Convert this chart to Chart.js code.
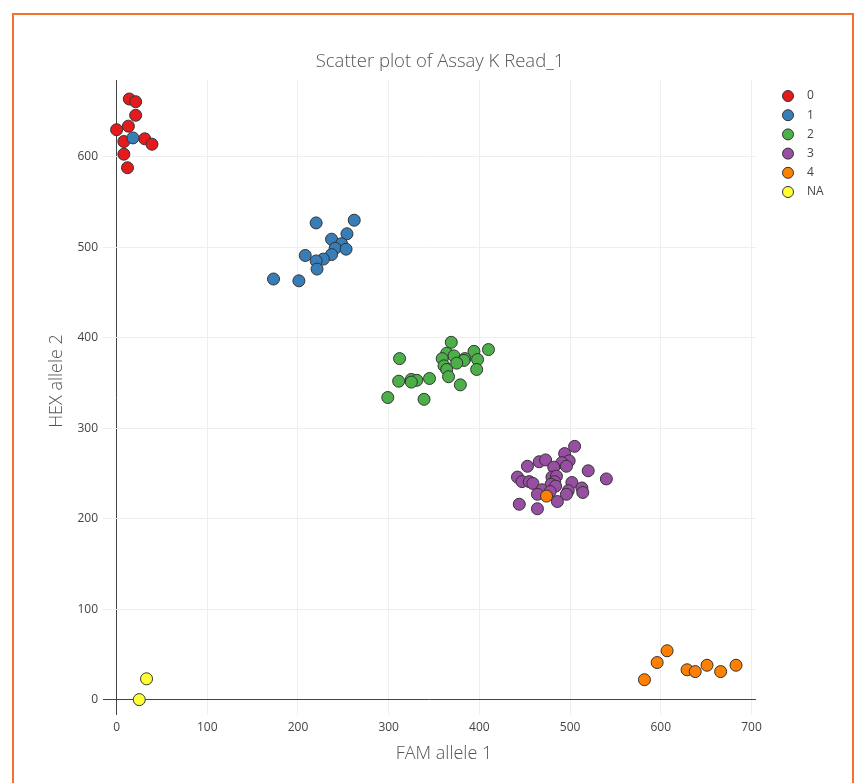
<!DOCTYPE html>
<html>
<head>
<meta charset="utf-8">
<script src="https://cdn.jsdelivr.net/npm/chart.js@4.4.1/dist/chart.umd.min.js"></script>
<style>
  html, body { margin: 0; padding: 0; background: #fff; overflow: hidden; }
  #frame { position: absolute; left: 12px; top: 13px; width: 838px; height: 800px; border: 2px solid #f4712f; }
  #wrap { position: absolute; left: 0; top: 0; width: 855px; height: 783px; }
</style>
</head>
<body>
<div id="frame"></div>
<div id="wrap"><canvas id="assayChart"></canvas></div>
<script>
// groups as in the legend
const groups = ['0', '1', '2', '3', '4', 'NA']
const groupColors = ['#e41a1c', '#377eb8', '#4daf4a', '#984ea3', '#ff7f00', '#ffff33']

// FAM allele 1 (x) / HEX allele 2 (y) per group
const g0X = [14, 21, 21, 0, 13, 31, 39, 8, 8, 12]
const g0Y = [664, 661, 646, 630, 634, 620, 614, 617, 603, 588]

const g1X = [18, 220, 262, 254, 237, 248, 241, 253, 208, 237, 228, 220, 221, 173, 201]
const g1Y = [621, 527, 530, 515, 509, 504, 499, 498, 491, 492, 487, 485, 476, 465, 463]

const g2X = [369, 410, 394, 364, 372, 384, 359, 398, 312, 383, 375, 361, 364, 397, 366, 345, 311, 325, 331, 325, 379, 299, 339]
const g2Y = [395, 387, 385, 383, 380, 377, 377, 376, 377, 375, 372, 369, 365, 365, 357, 355, 352, 354, 353, 351, 348, 334, 332]

const g3X = [505, 494, 499, 466, 473, 491, 496, 453, 482, 520, 480, 485, 442, 540, 447, 455, 459, 483, 502, 479, 484, 513, 469, 514, 498, 478, 496, 464, 486, 444, 464]
const g3Y = [280, 272, 264, 263, 265, 262, 258, 258, 257, 253, 246, 247, 246, 244, 241, 241, 239, 241, 240, 238, 236, 234, 232, 229, 231, 230, 227, 227, 219, 216, 211]

const g4X = [474, 607, 596, 582, 629, 638, 651, 666, 683]
const g4Y = [225, 54, 41, 22, 33, 31, 38, 31, 38]

const gNAX = [33, 25]
const gNAY = [23, 0]

// tick labels
const xTicks = [0, 100, 200, 300, 400, 500, 600, 700]
const yTicks = [0, 100, 200, 300, 400, 500, 600]

const chartTitle = 'Scatter plot of Assay K Read_1'
const xTitle = 'FAM allele 1'
const yTitle = 'HEX allele 2'

const groupX = [g0X, g1X, g2X, g3X, g4X, gNAX]
const groupY = [g0Y, g1Y, g2Y, g3Y, g4Y, gNAY]

const textColor = '#444'
const titleColor = '#555'
const fontFamily = "'Open Sans', sans-serif"

// titles + legend placed like the plotly original
const plotText = {
    id: 'plotText',
    afterDraw(chart) {
        const ctx = chart.ctx
        ctx.save()
        ctx.fillStyle = titleColor
        ctx.textAlign = 'center'
        ctx.textBaseline = 'middle'

        ctx.font = '300 18.5px ' + fontFamily
        ctx.fillText(chartTitle, 440, 62)

        ctx.font = '300 18px ' + fontFamily
        ctx.fillText(xTitle, 444, 754)

        ctx.save()
        ctx.translate(57, 381)
        ctx.rotate(-Math.PI / 2)
        ctx.fillText(yTitle, 0, 0)
        ctx.restore()

        // legend
        ctx.font = '12px ' + fontFamily
        ctx.textAlign = 'left'
        chart.data.datasets.forEach((ds, i) => {
            const y = 96 + i * 19.2
            ctx.beginPath()
            ctx.arc(788, y, 5.5, 0, Math.PI * 2)
            ctx.fillStyle = ds.backgroundColor
            ctx.fill()
            ctx.lineWidth = 1
            ctx.strokeStyle = '#333'
            ctx.stroke()
            ctx.fillStyle = textColor
            ctx.fillText(ds.label, 807, y)
        })
        ctx.restore()
    }
}

const gridColor = (c) => (c.tick && c.tick.value === 0) ? '#444' : '#eeeeee'

const assayCtx = document.getElementById('assayChart').getContext('2d')
const assayChart = new Chart(assayCtx, {
    type: 'scatter',
    data: {
        datasets: groups.map((g, i) => ({
            label: g,
            data: groupX[i].map((x, j) => ({ x: x, y: groupY[i][j] })),
            backgroundColor: groupColors[i],
            borderColor: '#333',
            borderWidth: 1,
            pointRadius: 6,
            order: -i, // later groups on top, like plotly
        }))
    },
    options: {
        responsive: true,
        maintainAspectRatio: false,
        animation: false,
        devicePixelRatio: 1,
        events: [],
        layout: {
            padding: { top: 80, right: 99, left: 0, bottom: 0 }
        },
        scales: {
            x: {
                type: 'linear',
                min: -15,
                max: 705,
                afterBuildTicks: (s) => { s.ticks = xTicks.map(v => ({ value: v })) },
                afterFit: (s) => { s.height = 68 },
                grid: {
                    color: gridColor,
                    drawTicks: false
                },
                border: { display: false },
                ticks: {
                    autoSkip: false,
                    maxRotation: 0,
                    padding: 5,
                    color: textColor,
                    font: { family: fontFamily, size: 12 }
                }
            },
            y: {
                type: 'linear',
                min: -17,
                max: 685,
                afterBuildTicks: (s) => { s.ticks = yTicks.map(v => ({ value: v })) },
                afterFit: (s) => { s.width = 103 },
                grid: {
                    color: gridColor,
                    drawTicks: false
                },
                border: { display: false },
                ticks: {
                    autoSkip: false,
                    padding: 5,
                    color: textColor,
                    font: { family: fontFamily, size: 12 }
                }
            }
        },
        plugins: {
            legend: { display: false },
            title: { display: false },
            tooltip: { enabled: false }
        }
    },
    plugins: [plotText]
});
</script>
</body>
</html>
